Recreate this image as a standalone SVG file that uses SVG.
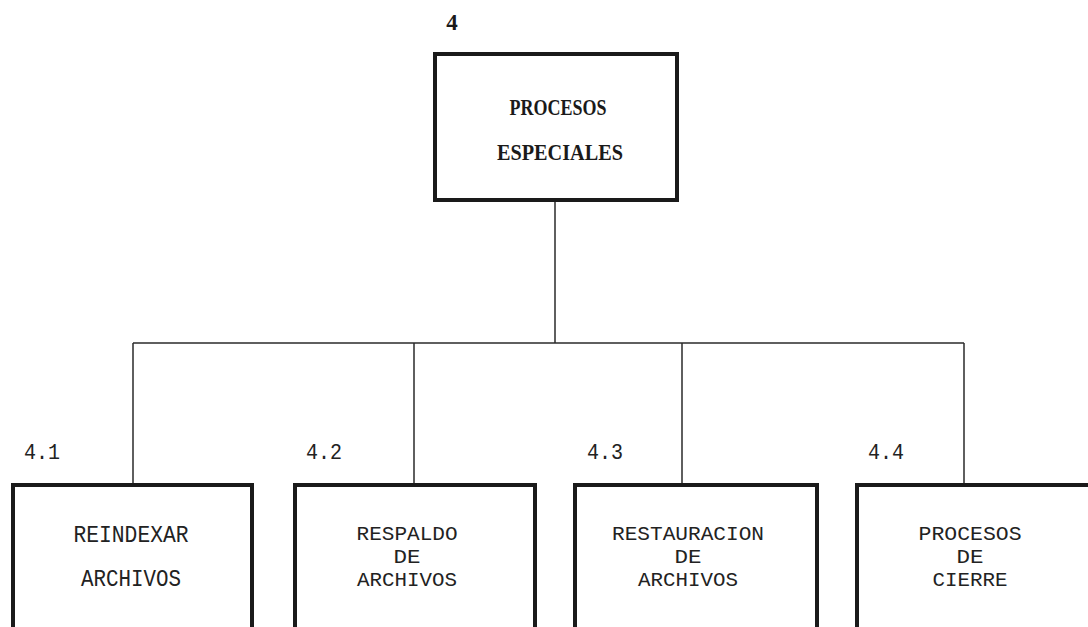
<svg xmlns="http://www.w3.org/2000/svg" width="1088" height="627" viewBox="0 0 1088 627">
<style>
.box{fill:#fff;stroke:#1a1a1a;stroke-width:4}
.conn{stroke:#2a2a2a;stroke-width:1.5;fill:none}
.t{font-family:"Liberation Mono",monospace;font-size:23px;fill:#222;text-anchor:middle}
.ts{font-family:"Liberation Mono",monospace;font-size:20px;fill:#222;text-anchor:middle}
.tb{font-family:"Liberation Serif",serif;font-weight:bold;font-size:23px;fill:#1a1a1a;text-anchor:middle}
.num{font-family:"Liberation Mono",monospace;font-size:22px;fill:#222}
</style>
<rect width="1088" height="627" fill="#fff"/>
<g id="connectors">
<line class="conn" x1="555" y1="200" x2="555" y2="343"/>
<line class="conn" x1="133" y1="343" x2="964" y2="343"/>
<line class="conn" x1="133" y1="343" x2="133" y2="484"/>
<line class="conn" x1="414" y1="343" x2="414" y2="484"/>
<line class="conn" x1="682" y1="343" x2="682" y2="484"/>
<line class="conn" x1="964" y1="343" x2="964" y2="484"/>
</g>
<g id="n4">
<text class="tb" x="452" y="30">4</text>
<rect class="box" x="435" y="54" width="242" height="146"/>
<text class="tb" x="558" y="115" textLength="97" lengthAdjust="spacingAndGlyphs">PROCESOS</text>
<text class="tb" x="560" y="160" textLength="126" lengthAdjust="spacingAndGlyphs">ESPECIALES</text>
</g>
<g id="n41">
<text class="num" x="24" y="459" textLength="36" lengthAdjust="spacingAndGlyphs">4.1</text>
<rect class="box" x="13" y="485" width="239" height="160"/>
<text class="t" x="131" y="542" textLength="115" lengthAdjust="spacingAndGlyphs">REINDEXAR</text>
<text class="t" x="131" y="586" textLength="100" lengthAdjust="spacingAndGlyphs">ARCHIVOS</text>
</g>
<g id="n42">
<text class="num" x="306" y="459" textLength="36" lengthAdjust="spacingAndGlyphs">4.2</text>
<rect class="box" x="295" y="485" width="240" height="160"/>
<text class="ts" x="407" y="540" textLength="101" lengthAdjust="spacingAndGlyphs">RESPALDO</text>
<text class="ts" x="407" y="563" textLength="27" lengthAdjust="spacingAndGlyphs">DE</text>
<text class="ts" x="407" y="586" textLength="100" lengthAdjust="spacingAndGlyphs">ARCHIVOS</text>
</g>
<g id="n43">
<text class="num" x="587" y="459" textLength="36" lengthAdjust="spacingAndGlyphs">4.3</text>
<rect class="box" x="575" y="485" width="242" height="160"/>
<text class="ts" x="688" y="540" textLength="152" lengthAdjust="spacingAndGlyphs">RESTAURACION</text>
<text class="ts" x="688" y="563" textLength="27" lengthAdjust="spacingAndGlyphs">DE</text>
<text class="ts" x="688" y="586" textLength="100" lengthAdjust="spacingAndGlyphs">ARCHIVOS</text>
</g>
<g id="n44">
<text class="num" x="868" y="459" textLength="36" lengthAdjust="spacingAndGlyphs">4.4</text>
<rect class="box" x="857" y="485" width="260" height="160"/>
<text class="ts" x="970" y="540" textLength="103" lengthAdjust="spacingAndGlyphs">PROCESOS</text>
<text class="ts" x="970" y="563" textLength="27" lengthAdjust="spacingAndGlyphs">DE</text>
<text class="ts" x="970" y="586" textLength="75" lengthAdjust="spacingAndGlyphs">CIERRE</text>
</g>
</svg>
